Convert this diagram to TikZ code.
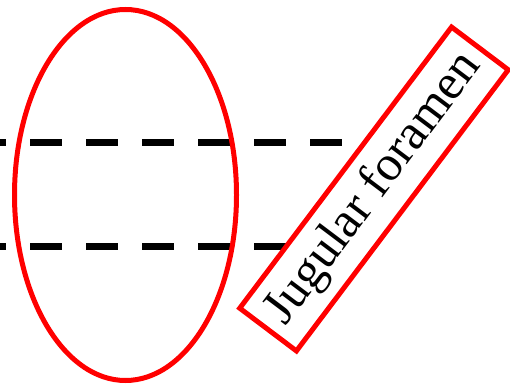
\documentclass[tikz,border=0pt]{standalone}
\usepackage{fontspec}
\setmainfont{Liberation Serif}
\usetikzlibrary{shapes.geometric}

\begin{document}
\begin{tikzpicture}[
        x=1pt, y=1pt,
        contur/.style={draw=red, line width=5pt},
        linie/.style={line width=7pt, dash pattern=on 32pt off 24pt, dash phase=26pt},
        eticheta/.style={contur, fill=white, rotate=53, minimum width=352pt, minimum height=71pt,
            inner sep=0pt, font=\fontsize{50}{54}\selectfont},
    ]
        \useasboundingbox (0,0) rectangle (510,390);
        \coordinate (sus) at (0,247);
        \coordinate (jos) at (0,143);
        \draw[linie] (sus) -- ++(342,0);
        \draw[linie] (jos) -- ++(342,0);
        \node[contur, ellipse, minimum width=222pt, minimum height=371pt] (foramen) at (125.5,195) {};
        \node[eticheta] (jugular) at (374,201) {Jugular foramen};
    \end{tikzpicture}
\end{document}
